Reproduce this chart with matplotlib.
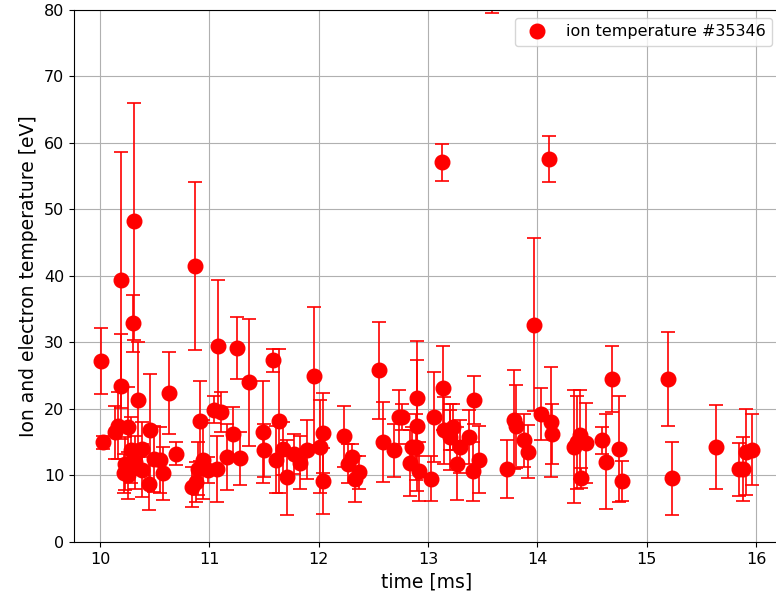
import matplotlib
matplotlib.use("Agg")
import matplotlib.pyplot as plt

# ion temperature shot #35346
time_ms = [10.01, 10.03, 10.14, 10.16, 10.19, 10.19, 10.22, 10.23, 10.26, 10.26,
           10.28, 10.30, 10.31, 10.32, 10.35, 10.38, 10.38, 10.45, 10.46, 10.49,
           10.55, 10.58, 10.63, 10.69, 10.84, 10.88, 10.87, 10.90, 10.91, 10.94,
           10.99, 11.04, 11.07, 11.08, 11.11, 11.16, 11.22, 11.25, 11.28, 11.36,
           11.49, 11.50, 11.58, 11.61, 11.64, 11.67, 11.71, 11.77, 11.83, 11.89,
           11.96, 12.01, 12.04, 12.04, 12.23, 12.27, 12.30, 12.33, 12.37, 12.55,
           12.59, 12.69, 12.73, 12.76, 12.83, 12.85, 12.89, 12.90, 12.90, 12.92,
           13.03, 13.05, 13.13, 13.14, 13.15, 13.20, 13.23, 13.20, 13.26, 13.29,
           13.37, 13.42, 13.41, 13.47, 13.58, 13.72, 13.79, 13.80, 13.88, 13.91,
           13.97, 14.03, 14.11, 14.12, 14.13, 14.33, 14.39, 14.44, 14.40, 14.36,
           14.59, 14.63, 14.68, 14.75, 14.77, 15.19, 15.23, 15.63, 15.84, 15.88,
           15.91, 15.96]
temp_ev = [27.2, 15.0, 16.5, 17.5, 39.4, 23.4, 10.3, 11.8, 17.3, 10.0,
           13.8, 32.9, 48.2, 12.0, 21.4, 14.0, 10.8, 8.75, 16.8, 12.5,
           12.3, 10.3, 22.4, 13.3, 8.3, 9.0, 41.5, 11.0, 18.2, 12.4,
           10.8, 19.9, 11.0, 29.5, 19.6, 12.8, 16.3, 29.2, 12.6, 24.0,
           16.5, 13.8, 27.3, 12.4, 18.2, 14.0, 9.7, 13.2, 11.9, 13.9,
           25.0, 14.3, 16.4, 9.2, 15.9, 11.8, 12.8, 9.5, 10.5, 25.8,
           15.0, 13.8, 18.8, 18.8, 11.9, 14.3, 14.3, 21.6, 17.5, 10.6,
           9.5, 18.8, 57.1, 23.2, 16.8, 16.8, 17.3, 15.8, 11.8, 14.3,
           15.8, 21.3, 10.6, 12.4, 85.0, 11.0, 18.4, 17.4, 15.3, 13.6,
           32.7, 19.3, 57.6, 18.0, 16.3, 14.3, 16.1, 14.9, 9.6, 15.0,
           15.3, 12.1, 24.5, 14.0, 9.2, 24.5, 9.6, 14.3, 10.9, 11.0,
           13.5, 13.9]
temp_err = [5.0, 1.0, 4.0, 5.0, 19.2, 7.9, 3.0, 4.0, 6.0, 3.5,
            5.0, 4.3, 17.8, 4.0, 8.6, 4.0, 4.0, 4.0, 8.5, 5.0,
            5.0, 4.0, 6.1, 1.7, 3.0, 3.0, 12.7, 4.0, 6.0, 6.0,
            2.0, 2.0, 5.0, 9.9, 3.0, 5.0, 4.0, 4.7, 4.0, 9.6,
            7.7, 4.0, 1.7, 5.0, 10.8, 4.0, 5.7, 3.0, 4.0, 4.5,
            10.4, 7.0, 6.0, 5.0, 4.6, 3.0, 2.0, 3.5, 2.5, 7.3,
            6.0, 4.0, 4.0, 2.0, 5.0, 3.0, 5.0, 8.6, 9.9, 4.4,
            3.4, 6.8, 2.8, 6.3, 5.0, 3.0, 3.5, 5.0, 5.5, 4.0,
            4.0, 3.6, 4.5, 5.0, 5.5, 4.4, 7.5, 6.2, 4.0, 4.0,
            13.0, 3.9, 3.5, 8.3, 4.5, 8.5, 6.7, 6.0, 1.5, 7.0,
            2.0, 7.1, 4.9, 8.0, 3.0, 7.1, 5.5, 6.3, 4.0, 4.8,
            6.5, 5.4]

fig = plt.figure(figsize=(7.76, 6.01), dpi=100)
# the reference is cut off on the right, so the axes run past the figure edge
ax = fig.add_axes([0.0954, 0.0982, 0.910, 0.8852])

ax.errorbar(time_ms, temp_ev, yerr=temp_err, fmt="none", ecolor="red",
            elinewidth=1.2, capsize=5, capthick=1.2)
ax.plot(time_ms, temp_ev, "o", color="red", markersize=10.5,
        label="ion temperature #35346")

ax.set_xlim(9.762, 16.22)
ax.set_ylim(0, 80)
ax.set_xticks([10, 11, 12, 13, 14, 15, 16])
ax.set_yticks(range(0, 81, 10))
ax.tick_params(labelsize=11.5)
ax.grid(True)
ax.set_xlabel("time [ms]", fontsize=13.5)
ax.set_ylabel("Ion and electron temperature [eV]", fontsize=13.5)
ax.legend(loc="upper right", fontsize=11.5)

fig.savefig("out.png", dpi=100)
